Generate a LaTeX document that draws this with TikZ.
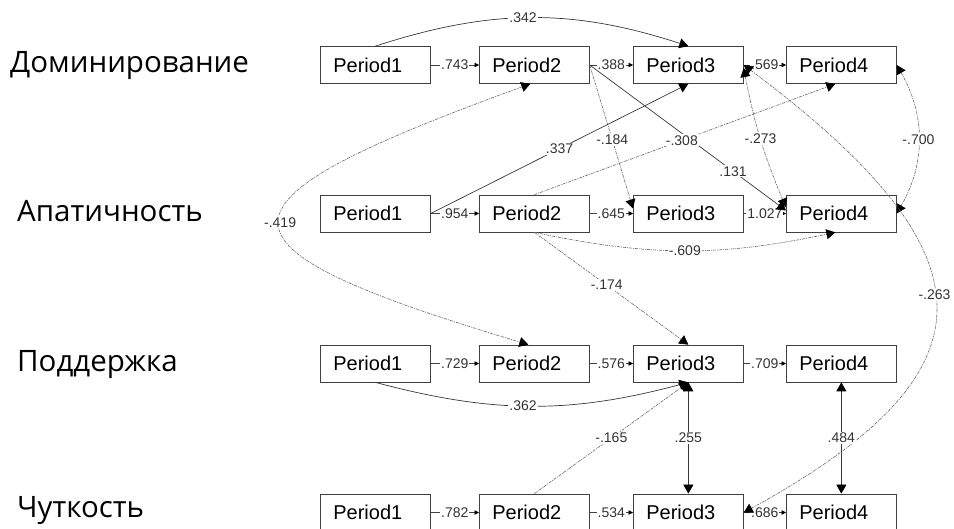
\documentclass[tikz,border=0pt]{standalone}
\usepackage{fontspec}
\newfontfamily\lab{Liberation Sans}
\newfontfamily\ru{Open Sans}
\usetikzlibrary{arrows.meta}
\begin{document}
\begin{tikzpicture}[x=1pt,y=1pt,
  box/.style={draw=black!75, line width=0.7pt, minimum height=37pt, text width=84pt, inner xsep=13pt, inner ysep=0pt, align=left, font=\lab\fontsize{20}{22}\selectfont, anchor=west},
  rowlab/.style={anchor=base west, inner sep=0pt, font=\ru\fontsize{29.5}{31}\selectfont},
  elab/.style={fill=white, inner sep=1pt, font=\lab\fontsize{14}{15}\selectfont, text=black!80},
  chain/.style={draw=black!75, line width=0.6pt, -{Triangle[length=4.5pt,width=4.5pt,color=black]}},
  sol/.style={draw=black!78, line width=0.7pt},
  dsh/.style={draw=black!60, line width=0.6pt, dash pattern=on 3pt off 1pt on 1pt off 1pt},
  arrone/.style={-{Triangle[length=9pt,width=10pt,color=black]}},
  arrtwo/.style={{Triangle[length=9pt,width=10pt,color=black]}-{Triangle[length=9pt,width=10pt,color=black]}},
]
\useasboundingbox (0,0) rectangle (954,529);
\clip (0,0) rectangle (954,529);

% row labels
\node[rowlab] (LD) at (10,456) {Доминирование};
\node[rowlab] (LA) at (17,307) {Апатичность};
\node[rowlab] (LP) at (17,157) {Поддержка};
\node[rowlab] (LC) at (17,11) {Чуткость};

% boxes
\foreach \r/\y in {D/464, A/315.5, P/165.5, C/16.5}{
  \node[box] (\r1) at (320,\y) {Period1};
  \node[box] (\r2) at (479,\y) {Period2};
  \node[box] (\r3) at (633,\y) {Period3};
  \node[box] (\r4) at (786,\y) {Period4};
}

% chain arrows
\draw[chain] (D1) -- node[elab]{.743} (D2);
\draw[chain] (D2) -- node[elab]{.388} (D3);
\draw[chain] (D3) -- node[elab]{.569} (D4);
\draw[chain] (A1) -- node[elab]{.954} (A2);
\draw[chain] (A2) -- node[elab]{.645} (A3);
\draw[chain] (A3) -- node[elab]{1.027} (A4);
\draw[chain] (P1) -- node[elab]{.729} (P2);
\draw[chain] (P2) -- node[elab]{.576} (P3);
\draw[chain] (P3) -- node[elab]{.709} (P4);
\draw[chain] (C1) -- node[elab]{.782} (C2);
\draw[chain] (C2) -- node[elab]{.534} (C3);
\draw[chain] (C3) -- node[elab]{.686} (C4);

% cross-lagged and other paths
\draw[sol,arrone] (D1.north) to[bend left=18] node[elab,pos=0.47]{.342} (D3.north);
\draw[dsh,arrone] (D2.east) -- node[elab,pos=0.52]{-.184} ([yshift=5pt]A3.west);
\draw[sol,arrone] (D2.east) -- node[elab,pos=0.73]{.131} ([yshift=3pt]A4.west);
\draw[sol,arrone] (A1.east) -- node[elab,pos=0.5]{.337} (D3.south);
\draw[dsh,arrone] (A2.north) -- node[elab,pos=0.49]{-.308} ([xshift=-6pt]D4.south);
\draw[dsh,arrtwo] ([yshift=-3pt]D3.east) to[bend right=6] node[elab,pos=0.5]{-.273} ([yshift=6pt]A4.west);
\draw[dsh,arrtwo] (D4.east) to[bend left=30] node[elab,pos=0.5]{-.700} (A4.east);
\draw[dsh,arrtwo] (D3.east) .. controls (999,273) and (999,156.5) .. node[elab,pos=0.47]{-.263} (C3.east);
\draw[dsh,arrtwo] ([xshift=-4pt]D2.south) .. controls (197,324) and (197,284) .. node[elab,pos=0.5]{-.419} ([xshift=-6pt]P2.north);
\draw[dsh,arrone] (A2.south) to[bend right=12] node[elab,pos=0.5]{-.609} ([xshift=-6pt]A4.south);
\draw[dsh,arrone] (A2.south) -- node[elab,pos=0.47]{-.174} (P3.north);
\draw[sol,arrone] (P1.south) to[bend right=15] node[elab,pos=0.47]{.362} (P3.south);
\draw[dsh,arrone] (C2.north) -- node[elab,pos=0.5]{-.165} (P3.south);
\draw[sol,arrtwo] (P3.south) -- node[elab]{.255} (C3.north);
\draw[sol,arrtwo] (P4.south) -- node[elab]{.484} (C4.north);
\end{tikzpicture}
\end{document}
